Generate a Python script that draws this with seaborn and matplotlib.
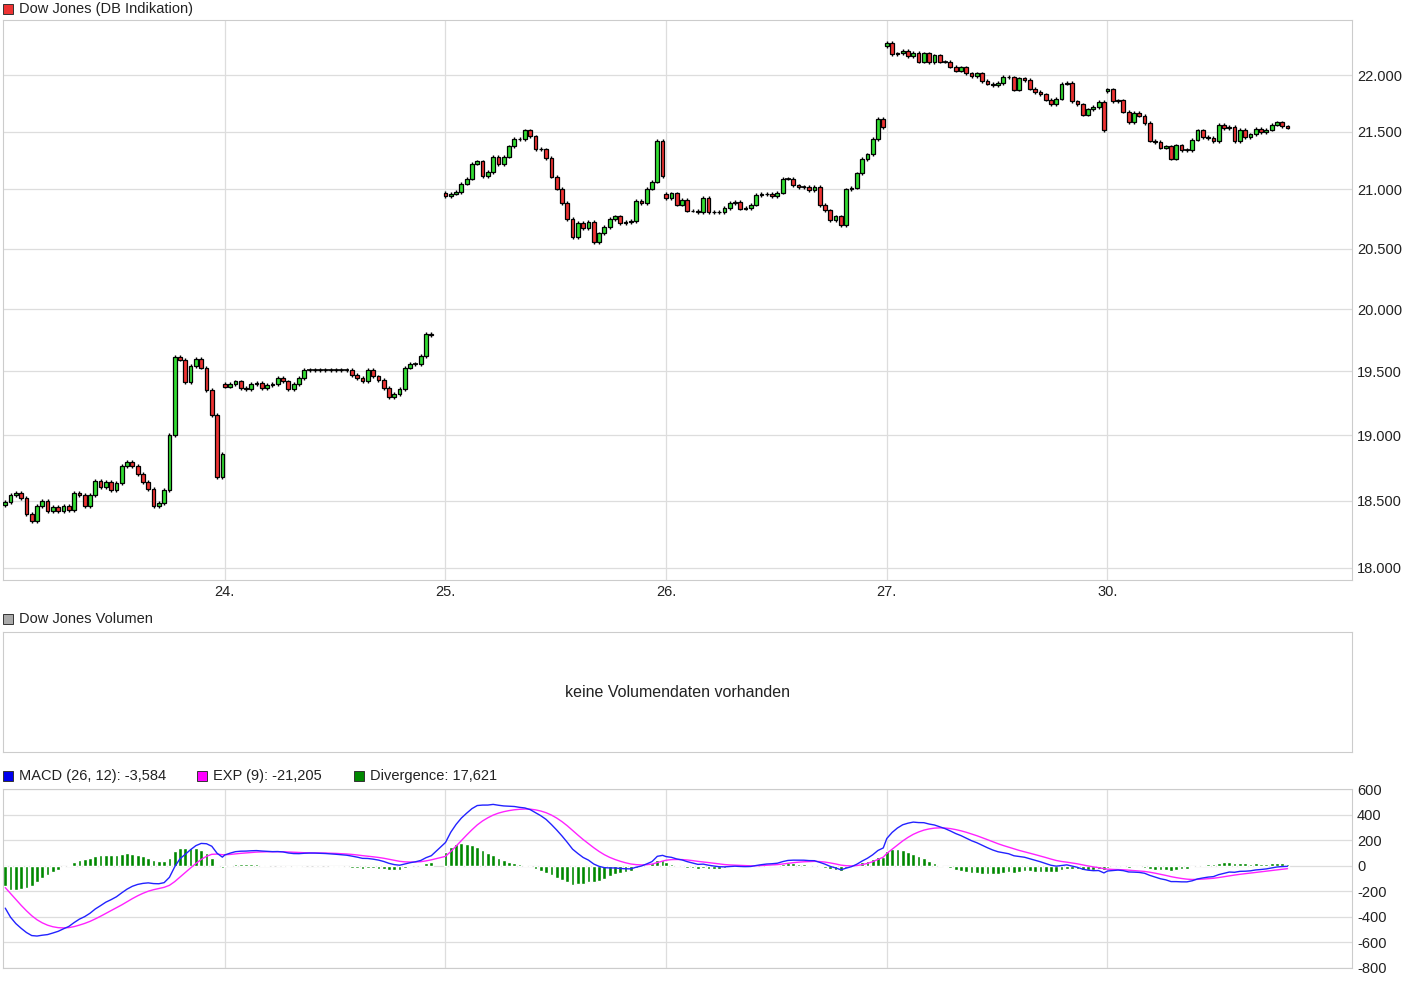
import numpy as np
import pandas as pd
import matplotlib
matplotlib.use("Agg")
import matplotlib.pyplot as plt
from matplotlib.patches import Rectangle
import seaborn as sns

# closes per trading day, open of first candle in day_opens
day_ticks = [0, 1, 2, 3, 4]
day_labels = ["24.", "25.", "26.", "27.", "30."]
day_starts = [-0.995, 0.0, 1.0, 2.0, 3.0, 4.0]
day_opens = [18470, 19400, 20970, 20960, 22260, 21860]

closes_23 = [18490, 18540, 18560, 18520, 18400, 18350, 18460, 18500, 18420, 18450,
             18420, 18460, 18430, 18560, 18540, 18460, 18540, 18650, 18600, 18640,
             18580, 18630, 18760, 18790, 18760, 18700, 18640, 18590, 18460, 18480,
             18580, 19000, 19615, 19594, 19417, 19543, 19600, 19530, 19354, 19157,
             18680, 18856]
closes_24 = [19380, 19400, 19420, 19370, 19360, 19400, 19410, 19370, 19390, 19400,
             19450, 19420, 19360, 19400, 19450, 19510,
             19510, 19510, 19510, 19510, 19510, 19510, 19510, 19510,
             19470, 19450, 19420, 19510, 19460, 19430, 19370, 19300, 19320, 19360,
             19530, 19560, 19560, 19620, 19800, 19790]
closes_25 = [20942, 20963, 20977, 21049, 21092, 21221, 21240, 21114, 21149, 21281,
             21215, 21281, 21372, 21435, 21437, 21510, 21458, 21350, 21344, 21272,
             21109, 21006, 20886, 20748, 20598, 20713, 20673, 20727, 20555, 20627,
             20679, 20748, 20770, 20713, 20722, 20733, 20903, 20886, 21006, 21066,
             21418, 21114]
closes_26 = [20928, 20966, 20871, 20908, 20819, 20820, 20804, 20928, 20804, 20810,
             20804, 20843, 20886, 20891, 20837, 20843, 20871, 20954, 20960, 20962,
             20942, 20972, 21092, 21092, 21034, 21020, 21020, 20991, 21020, 20868,
             20822, 20742, 20770, 20696, 21000, 21015, 21138, 21263, 21301, 21435,
             21609, 21539]
closes_27 = [22291, 22189, 22195, 22219, 22171, 22201, 22120, 22195, 22117, 22177,
             22120, 22120, 22075, 22039, 22069, 22015, 21991, 22015, 21949, 21925,
             21913, 21931, 21985, 21979, 21871, 21970, 21955, 21880, 21850, 21829,
             21781, 21739, 21790, 21925, 21934, 21766, 21739, 21649, 21697, 21715,
             21760, 21514]
closes_30 = [21874, 21766, 21775, 21676, 21586, 21664, 21640, 21574, 21421, 21408,
             21361, 21370, 21265, 21379, 21340, 21340, 21429, 21510, 21451, 21445,
             21415, 21559, 21529, 21541, 21415, 21517, 21451, 21475, 21526, 21496,
             21517, 21562, 21580, 21547, 21535]
all_days = [closes_23, closes_24, closes_25, closes_26, closes_27, closes_30]

# indicator state carried in from before the visible window
ema12_seed = 19970
ema26_seed = 20200
signal_seed = -130

STEP = 0.024
rows = []
for start, first_open, closes in zip(day_starts, day_opens, all_days):
    opens = [first_open] + closes[:-1]
    for k, (o, c) in enumerate(zip(opens, closes)):
        rows.append({"x": start + k * STEP, "open": o, "close": c})
df = pd.DataFrame(rows)
df["high"] = df[["open", "close"]].max(axis=1) + 15
df["low"] = df[["open", "close"]].min(axis=1) - 15


def ema(values, span, seed):
    a = 2 / (span + 1)
    out, prev = [], seed
    for v in values:
        prev = prev + a * (v - prev)
        out.append(prev)
    return np.array(out)


df["macd"] = ema(df["close"], 12, ema12_seed) - ema(df["close"], 26, ema26_seed)
df["exp"] = ema(df["macd"], 9, signal_seed)
df["div"] = df["macd"] - df["exp"]

sns.set_theme(style="white")
plt.rcParams["font.family"] = ["Liberation Sans", "DejaVu Sans"]
plt.rcParams["axes.unicode_minus"] = False
GRID = "#dddddd"

fig = plt.figure(figsize=(14.1, 9.83), dpi=100)
ax = fig.add_axes([0.002, 0.410, 0.957, 0.5697])
axv = fig.add_axes([0.002, 0.235, 0.957, 0.122])
axm = fig.add_axes([0.002, 0.0153, 0.957, 0.1817])

XMIN, XMAX = -1.006, 5.109


def style_axis(a):
    for s in a.spines.values():
        s.set_color("#cccccc")
        s.set_linewidth(0.8)
    a.set_xlim(XMIN, XMAX)
    a.tick_params(length=0, labelsize=10.5, colors="#222222")
    a.yaxis.tick_right()


# price panel
style_axis(ax)
ax.set_yscale("log")
ax.set_ylim(17912, 22500)
yt = np.arange(18000, 22001, 500)
ax.set_yticks(yt)
ax.set_yticklabels([f"{v:,.0f}".replace(",", ".") for v in yt])
ax.minorticks_off()
ax.set_xticks(day_ticks)
ax.set_xticklabels(day_labels)
ax.grid(True, color=GRID, lw=0.9)
ax.set_axisbelow(True)

up = df["close"] >= df["open"]
ax.vlines(df["x"], df["low"], df["high"], color="black", lw=1, zorder=2)
body_lo = df[["open", "close"]].min(axis=1)
body_h = (df["close"] - df["open"]).abs()
ax.bar(df["x"], body_h, bottom=body_lo, width=0.017,
       color=np.where(up, "#33dd33", "#ee3333"), edgecolor="black", lw=0.9, zorder=3)
flat = body_h < 1
ax.hlines(df.loc[flat, "close"], df.loc[flat, "x"] - 0.012, df.loc[flat, "x"] + 0.012,
          color="black", lw=1.2, zorder=3)

# volume panel
style_axis(axv)
axv.set_xticks([])
axv.set_yticks([])
axv.text(0.5, 0.5, "keine Volumendaten vorhanden", transform=axv.transAxes,
         ha="center", va="center", fontsize=11.5, color="#222222")

# MACD panel
style_axis(axm)
axm.set_ylim(-800, 600)
axm.set_yticks(np.arange(-800, 601, 200))
axm.set_xticks(day_ticks)
axm.set_xticklabels([])
axm.grid(True, color=GRID, lw=0.9)
axm.set_axisbelow(True)
axm.bar(df["x"], df["div"], width=0.017, color="#008800", zorder=2)
sns.lineplot(data=df, x="x", y="exp", ax=axm, color="#ff22ff", lw=1, zorder=3)
sns.lineplot(data=df, x="x", y="macd", ax=axm, color="#2222ff", lw=1, zorder=4)
axm.set_xlabel("")
axm.set_ylabel("")


def legend_item(px, py, color, text):
    fig.patches.append(Rectangle((px / 1410, 1 - (py + 5) / 983), 10 / 1410, 10 / 983,
                                 transform=fig.transFigure, facecolor=color,
                                 edgecolor="#333333", lw=0.7))
    fig.text((px + 16) / 1410, 1 - py / 983, text, fontsize=10.5,
             va="center", ha="left", color="#222222")


legend_item(3, 9, "#ee3333", "Dow Jones (DB Indikation)")
legend_item(3, 619, "#aaaaaa", "Dow Jones Volumen")
legend_item(3, 776, "#0000ee", "MACD (26, 12): -3,584")
legend_item(197, 776, "#ff00ff", "EXP (9): -21,205")
legend_item(354, 776, "#008800", "Divergence: 17,621")

fig.savefig("out.png", dpi=100)
